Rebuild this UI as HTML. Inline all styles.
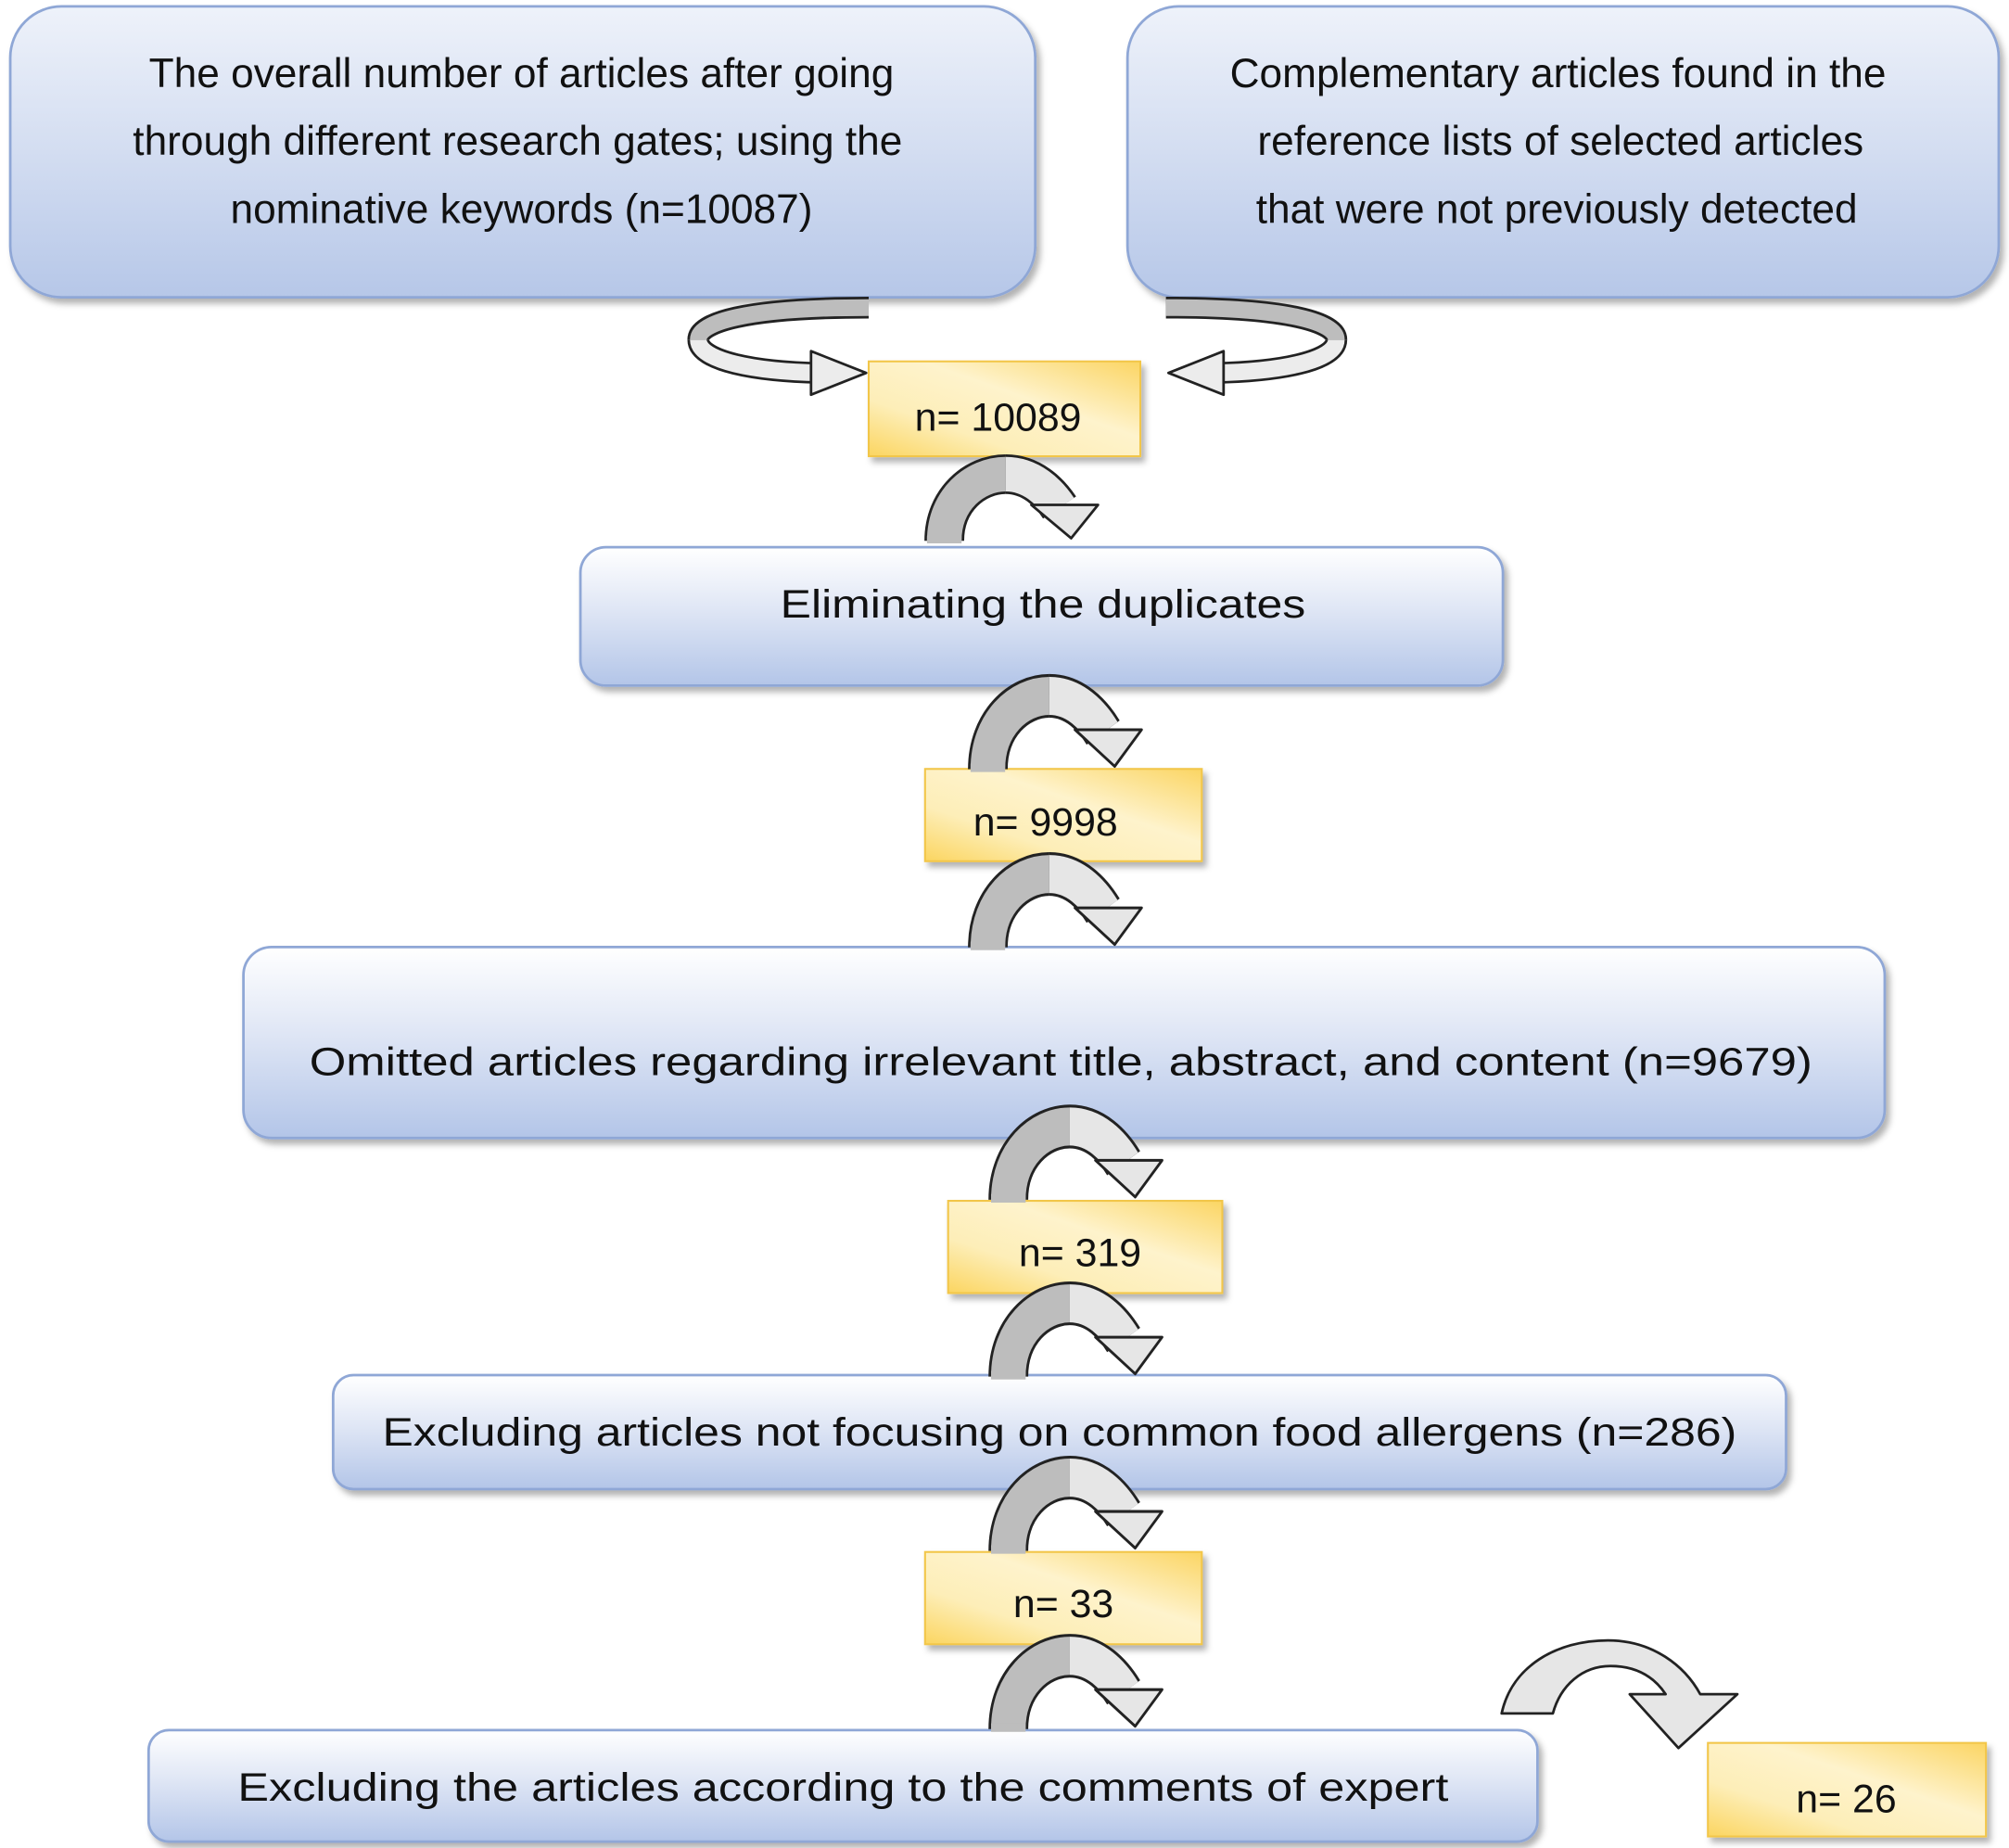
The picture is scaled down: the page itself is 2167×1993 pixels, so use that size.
<!DOCTYPE html>
<html><head><meta charset="utf-8"><style>
html,body{margin:0;padding:0;background:#fff}
svg{display:block}
text{font-family:"Liberation Sans",sans-serif;fill:#111}
</style></head><body>
<svg width="2167" height="1993" viewBox="0 0 1568 1442" preserveAspectRatio="none" xmlns="http://www.w3.org/2000/svg">
<defs>
<linearGradient id="bl" x1="0" y1="0" x2="0" y2="1">
<stop offset="0" stop-color="#ffffff"/><stop offset="0.45" stop-color="#dfe6f5"/><stop offset="1" stop-color="#b3c5e8"/></linearGradient>
<linearGradient id="bl2" x1="0" y1="0" x2="0" y2="1">
<stop offset="0" stop-color="#eef2fa"/><stop offset="0.5" stop-color="#d3ddf1"/><stop offset="1" stop-color="#b6c7e8"/></linearGradient>
<linearGradient id="yl" x1="0" y1="1" x2="1" y2="0">
<stop offset="0" stop-color="#fbd560"/><stop offset="0.3" stop-color="#fdeeb8"/><stop offset="0.6" stop-color="#fef3cc"/><stop offset="1" stop-color="#fbd563"/></linearGradient>
<filter id="sh" x="-5%" y="-5%" width="115%" height="125%"><feDropShadow dx="3" dy="4" stdDeviation="2.5" flood-color="#000" flood-opacity="0.3"/></filter>
<g id="arr">
<path d="M14,62 C14,30 38,10 62,10" fill="none" stroke="#222" stroke-width="31"/>
<path d="M62,10 C82,10 96,24 104,36" fill="none" stroke="#222" stroke-width="31"/>
<path d="M62,10 C82,10 96,24 104,36" fill="none" stroke="#e6e6e6" stroke-width="27"/>
<path d="M14,62 C14,30 38,10 62,10" fill="none" stroke="#bdbdbd" stroke-width="27"/>
<polygon points="82,34 134,34 113,60" fill="#e6e6e6" stroke="#222" stroke-width="2" stroke-linejoin="round"/>
<rect x="0.5" y="58" width="27" height="6" fill="#bdbdbd"/>
</g>
</defs>

<!-- boxes -->
<rect x="8" y="5" width="800" height="227" rx="40" fill="url(#bl2)" stroke="#8fa7d6" stroke-width="2" filter="url(#sh)"/>
<rect x="880" y="5" width="680" height="227" rx="40" fill="url(#bl2)" stroke="#8fa7d6" stroke-width="2" filter="url(#sh)"/>
<text font-size="32" text-anchor="middle"><tspan x="407" y="68">The overall number of articles after going</tspan><tspan x="404" y="121">through different research gates; using the</tspan><tspan x="407" y="174">nominative keywords (n=10087)</tspan></text>
<text font-size="32" text-anchor="middle"><tspan x="1216" y="68">Complementary articles found in the</tspan><tspan x="1218" y="121">reference lists of selected articles</tspan><tspan x="1215" y="174">that were not previously detected</tspan></text>

<rect x="453" y="427" width="720" height="108" rx="20" fill="url(#bl)" stroke="#8fa7d6" stroke-width="2" filter="url(#sh)"/>
<text x="814" y="482" font-size="31" text-anchor="middle" textLength="410" lengthAdjust="spacingAndGlyphs">Eliminating the duplicates</text>

<rect x="190" y="739" width="1281" height="149" rx="22" fill="url(#bl)" stroke="#8fa7d6" stroke-width="2" filter="url(#sh)"/>
<text x="828" y="839" font-size="31" text-anchor="middle" textLength="1173" lengthAdjust="spacingAndGlyphs">Omitted articles regarding irrelevant title, abstract, and content (n=9679)</text>

<rect x="260" y="1073" width="1134" height="89" rx="16" fill="url(#bl)" stroke="#8fa7d6" stroke-width="2" filter="url(#sh)"/>
<text x="827" y="1128" font-size="31" text-anchor="middle" textLength="1057" lengthAdjust="spacingAndGlyphs">Excluding articles not focusing on common food allergens (n=286)</text>

<rect x="116" y="1350" width="1084" height="87" rx="16" fill="url(#bl)" stroke="#8fa7d6" stroke-width="2" filter="url(#sh)"/>
<text x="658" y="1405" font-size="31" text-anchor="middle" textLength="945" lengthAdjust="spacingAndGlyphs">Excluding the articles according to the comments of expert</text>

<!-- yellow boxes -->
<rect x="678" y="282" width="212" height="74" fill="url(#yl)" stroke="#f2c64a" stroke-width="1.5" filter="url(#sh)"/>
<text x="779" y="336" font-size="31" text-anchor="middle">n= 10089</text>
<rect x="722" y="600" width="216" height="72" fill="url(#yl)" stroke="#f2c64a" stroke-width="1.5" filter="url(#sh)"/>
<text x="816" y="652" font-size="31" text-anchor="middle">n= 9998</text>
<rect x="740" y="937" width="214" height="72" fill="url(#yl)" stroke="#f2c64a" stroke-width="1.5" filter="url(#sh)"/>
<text x="843" y="988" font-size="31" text-anchor="middle">n= 319</text>
<rect x="722" y="1211" width="216" height="72" fill="url(#yl)" stroke="#f2c64a" stroke-width="1.5" filter="url(#sh)"/>
<text x="830" y="1262" font-size="31" text-anchor="middle">n= 33</text>
<rect x="1333" y="1360" width="217" height="73" fill="url(#yl)" stroke="#f2c64a" stroke-width="1.5" filter="url(#sh)"/>
<text x="1441" y="1414" font-size="31" text-anchor="middle">n= 26</text>

<!-- top swirl arrows -->
<g id="swl">
<path d="M640,291 C590,290 545,282 545,265" fill="none" stroke="#222" stroke-width="17"/>
<path d="M640,291 C590,290 545,282 545,265" fill="none" stroke="#ececec" stroke-width="13"/>
<path d="M545,265 C545,252 580,240 678,240" fill="none" stroke="#222" stroke-width="17"/>
<path d="M545,265 C545,252 580,240 678,240" fill="none" stroke="#bdbdbd" stroke-width="13"/>
<polygon points="633,274 633,308 676,291" fill="#ececec" stroke="#222" stroke-width="2" stroke-linejoin="round"/>
</g>
<use href="#swl" transform="translate(1588,0) scale(-1,1)"/>

<!-- U arrows -->
<use href="#arr" transform="translate(723,360)"/>
<use href="#arr" transform="translate(757,532) scale(1,1.1)"/>
<use href="#arr" transform="translate(757,671) scale(1,1.1)"/>
<use href="#arr" transform="translate(773,868) scale(1,1.1)"/>
<use href="#arr" transform="translate(773,1006) scale(1,1.1)"/>
<use href="#arr" transform="translate(773,1142) scale(1,1.1)"/>
<use href="#arr" transform="translate(773,1281) scale(1,1.1)"/>

<!-- big arrow to n=26 -->
<path d="M1172,1337 C1180,1300 1215,1280 1255,1280 C1290,1280 1315,1300 1327,1322 L1356,1322 L1310,1364 L1272,1322 L1300,1322 C1290,1307 1275,1300 1257,1300 C1235,1300 1218,1315 1212,1337 Z" fill="#e6e6e6" stroke="#222" stroke-width="2" stroke-linejoin="round"/>
</svg>
</body></html>
